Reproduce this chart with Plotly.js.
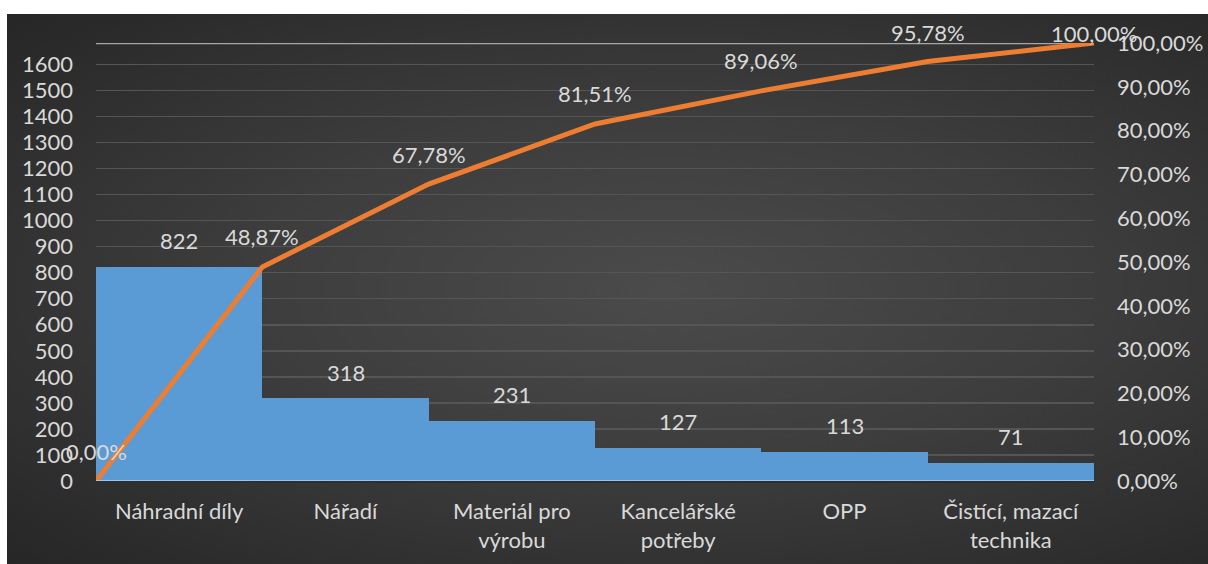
<!DOCTYPE html>
<html>
<head>
<meta charset="utf-8">
<script src="https://cdn.plot.ly/plotly-3.0.1.min.js"></script>
<style>
  html, body { margin: 0; padding: 0; background: #ffffff; width: 1208px; height: 564px; overflow: hidden; }
  #bg { position: absolute; left: 7px; top: 14px; width: 1201px; height: 550px;
        background: radial-gradient(ellipse at 55% 50%, #4b4b4b 0%, #3d3d3d 45%, #262626 100%); }
  #chart { position: absolute; left: 0; top: 0; width: 1208px; height: 564px; }
</style>
</head>
<body>
<div id="bg"></div>
<div id="chart"></div>
<script>
const categories = ["Náhradní díly", "Nářadí", "Materiál pro<br>výrobu", "Kancelářské<br>potřeby", "OPP", "Čistící, mazací<br>technika"];
const values = [822, 318, 231, 127, 113, 71];
const cumPct = [0, 0.4887, 0.6778, 0.8151, 0.8906, 0.9578, 1.0];
const leftTicks = [0, 100, 200, 300, 400, 500, 600, 700, 800, 900, 1000, 1100, 1200, 1300, 1400, 1500, 1600];
const rightTicks = [0, 0.1, 0.2, 0.3, 0.4, 0.5, 0.6, 0.7, 0.8, 0.9, 1.0];

const total = values.reduce((a, b) => a + b, 0);
const txtColor = '#d9d9d9';
const fnt = 'Lato, "Open Sans", sans-serif';
const fs = 22;
const plotH = 438;

function pctLabel(v) {
  return (v * 100).toFixed(2).replace('.', ',') + '%';
}

const bars = {
  type: 'bar',
  x: categories,
  y: values,
  marker: { color: '#5b9bd5', line: { width: 0 } },
  hoverinfo: 'skip',
  xaxis: 'x', yaxis: 'y'
};

const line = {
  type: 'scatter',
  mode: 'lines',
  x: cumPct.map((_, i) => i),
  y: cumPct,
  line: { color: '#ed7d31', width: 5 },
  hoverinfo: 'skip',
  xaxis: 'x2', yaxis: 'y2'
};

const barAnn = values.map((v, i) => ({
  xref: 'x', yref: 'y', x: categories[i], y: v, text: String(v),
  showarrow: false, yshift: 26, font: { color: txtColor, size: fs, family: fnt }
}));
const lineAnn = cumPct.map((p, i) => ({
  xref: 'x2', yref: 'y2', x: i, y: p, text: pctLabel(p),
  showarrow: false, yshift: Math.min(30, (1 - p) * plotH + 10),
  font: { color: txtColor, size: fs, family: fnt }
}));

const layout = {
  width: 1208, height: 564,
  margin: { l: 96, r: 114, t: 43, b: 83 },
  paper_bgcolor: 'rgba(0,0,0,0)',
  plot_bgcolor: 'rgba(0,0,0,0)',
  separators: ', ',
  showlegend: false,
  bargap: 0,
  font: { family: fnt, color: txtColor, size: fs },
  xaxis: {
    type: 'category', showgrid: false, zeroline: false,
    showline: true, linecolor: '#2e2e2e', linewidth: 2,
    ticks: '', ticklabelstandoff: 10,
    tickfont: { size: fs, color: txtColor, family: fnt }
  },
  xaxis2: {
    overlaying: 'x', anchor: 'y2', range: [0, 6], visible: false
  },
  yaxis: {
    range: [0, total], tickvals: leftTicks, ticktext: leftTicks.map(String),
    showgrid: true, gridcolor: '#555555', gridwidth: 1.5, zeroline: false,
    showline: false, ticks: '', ticklabelstandoff: 22,
    tickfont: { size: fs, color: txtColor, family: fnt }
  },
  yaxis2: {
    overlaying: 'y', side: 'right', range: [0, 1],
    tickvals: rightTicks, tickformat: '.2%',
    showgrid: false, zeroline: false, showline: false, ticks: '',
    ticklabelstandoff: 22,
    tickfont: { size: fs, color: txtColor, family: fnt }
  },
  annotations: barAnn.concat(lineAnn),
  shapes: [
    { type: 'line', xref: 'paper', yref: 'y2', x0: 0, x1: 1, y0: 1, y1: 1,
      line: { color: '#a6a6a6', width: 2.5 }, layer: 'below' },
    { type: 'line', xref: 'paper', yref: 'y', x0: 0, x1: 1, y0: 0, y1: 0,
      line: { color: '#9dc3e6', width: 2 }, layer: 'above' }
  ]
};

Plotly.newPlot('chart', [bars, line], layout, { staticPlot: true, displayModeBar: false });
</script>
</body>
</html>
